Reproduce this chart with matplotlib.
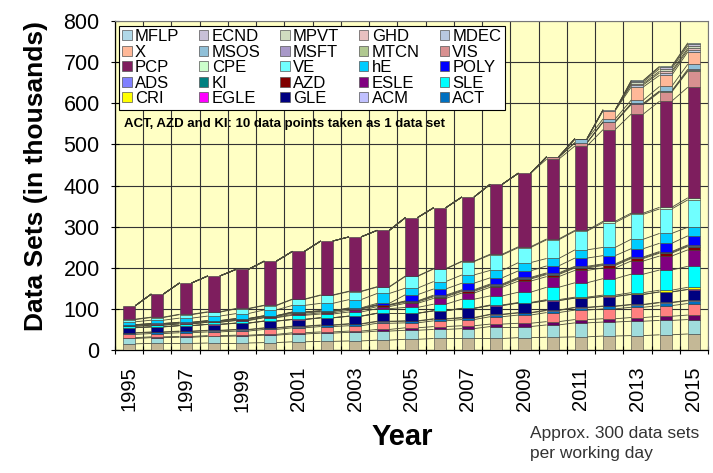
import matplotlib
matplotlib.use("Agg")
import matplotlib.pyplot as plt
import numpy as np
from matplotlib.patches import Rectangle
from matplotlib.collections import LineCollection

plt.rcParams["font.family"] = ["Liberation Sans", "DejaVu Sans"]

years = list(range(1995, 2016))

# data sets per year (thousands), one list per stacked series, bottom of the stack first
base_tan   = [15, 16, 16, 17, 17, 18, 20, 21, 22, 24, 26, 28, 28, 28, 30, 31, 32, 34, 35, 37, 39]
base_aqua  = [13, 14, 15, 16, 17, 18, 19, 20, 21, 22, 22, 22, 24, 29, 27, 30, 34, 34, 35, 35, 35]
base_plum  = [2, 2, 2, 2, 2, 2, 3, 3, 3, 4, 6, 7, 7, 6, 8, 8, 8, 8, 9, 10, 11]
base_rose  = [8, 8, 9, 9, 10, 12, 12, 13, 13, 15, 12, 14, 15, 18, 20, 22, 23, 24, 25, 26, 28]
ACT  = [3, 3, 3, 3, 3, 3, 3, 3, 4, 4, 4, 4, 4, 5, 5, 5, 6, 6, 6, 7, 7]
ACM  = [1, 1, 1, 1, 1, 1, 1, 1, 1, 1, 1, 1, 1, 1, 1, 1, 1, 1, 1, 1, 1]
GLE  = [12, 12, 13, 14, 15, 16, 16, 17, 18, 19, 18, 19, 22, 21, 23, 23, 22, 23, 24, 25, 26]
EGLE = [0.5, 0.5, 0.5, 0.5, 0.5, 0.5, 0.5, 0.5, 0.5, 0.5, 0.5, 0.5, 0.5, 0.5, 0.5, 0.5, 0.5, 0.5, 0.5, 0.5, 0.5]
CRI  = [0, 0, 0, 0, 0, 0, 0, 0, 0, 0, 0, 0, 0, 1, 1, 2, 2, 3, 4, 4, 5]
SLE  = [3, 4, 4, 5, 6, 8, 10, 9, 10, 11, 14, 16, 22, 22, 25, 30, 35, 40, 45, 49, 51]
ESLE = [0, 0, 0, 0, 1, 1, 2, 3, 4, 5, 10, 14, 15, 21, 27, 26, 30, 26, 32, 34, 40]
AZD  = [2, 2, 2, 2, 2, 2, 3, 3, 3, 3, 3, 4, 4, 4, 5, 5, 6, 6, 6, 7, 8]
KI   = [1, 1, 1, 1, 1, 1, 2, 1, 1, 1, 2, 2, 2, 2, 2, 2, 2, 2, 2, 2, 2]
ADS  = [1, 1, 1, 1, 1, 1, 1, 1, 1, 1, 1, 2, 2, 2, 2, 2, 2, 2, 2, 2, 2]
POLY = [0, 0, 0, 0, 0, 0, 0, 0, 1, 3, 15, 15, 16, 15, 16, 17, 20, 20, 20, 20, 22]
hE   = [7, 8, 10, 11, 12, 14, 16, 18, 20, 24, 16, 18, 20, 18, 20, 18, 20, 20, 23, 24, 21]
VE   = [5.5, 6.5, 8.5, 9.5, 11.5, 10.5, 14.5, 19.5, 19.5, 15.5, 28.5, 30.5, 32.5, 37.5, 36.5,
        45.5, 45.5, 60.5, 60.5, 59.5, 66.5]
CPE  = [1, 1, 1, 1, 1, 1, 1, 1, 1, 1, 1, 1, 1, 2, 2, 2, 2, 3, 3, 4, 5]
PCP  = [32.5, 56, 76, 87, 95, 107, 116, 131, 132, 137, 142, 148, 156, 170, 179, 194, 205, 223,
        241, 258, 269]
VIS  = [0, 0, 0, 0, 0, 0, 0, 0, 0, 0, 0, 0, 0, 0, 0, 5, 8, 18, 23, 22, 39]
MTCN = [0, 0, 0, 0, 0, 0, 0, 0, 0, 0, 0, 0, 0, 0, 0, 0, 0, 1, 2, 2, 2]
MSFT = [0, 0, 0, 0, 0, 0, 0, 0, 0, 0, 0, 0, 0, 0, 0, 0, 0, 0, 1, 1, 3]
MSOS = [0, 0, 0, 0, 0, 0, 0, 0, 0, 0, 0, 0, 0, 0, 0, 1, 8, 7, 8, 11, 12]
X    = [0, 0, 0, 0, 0, 0, 0, 0, 0, 0, 0, 0, 0, 0, 0, 0, 1, 20, 32, 27, 30]
MDEC = [0, 0, 0, 0, 0, 0, 0, 0, 0, 0, 0, 0, 0, 0, 0, 0, 1, 2, 5, 6, 5]
GHD  = [0, 0, 0, 0, 0, 0, 0, 0, 0, 0, 0, 0, 0, 0, 0, 0, 0, 0, 3, 4, 4]
MPVT = [0, 0, 0, 0, 0, 0, 0, 0, 0, 0, 0, 0, 0, 0, 0, 0, 0, 0, 4, 6, 6]
ECND = [0, 0, 0, 0, 0, 0, 0, 0, 0, 0, 0, 0, 0, 0, 0, 0, 0, 0, 3, 4, 4]
MFLP = [0, 0, 0, 0, 0, 0, 0, 0, 0, 0, 0, 0, 0, 0, 0, 0, 0, 0, 1, 2, 3]

stack_names = ["base_tan", "base_aqua", "base_plum", "base_rose", "ACT", "ACM", "GLE", "EGLE",
               "CRI", "SLE", "ESLE", "AZD", "KI", "ADS", "POLY", "hE", "VE", "CPE", "PCP", "VIS",
               "MTCN", "MSFT", "MSOS", "X", "MDEC", "GHD", "MPVT", "ECND", "MFLP"]
stack_values = [base_tan, base_aqua, base_plum, base_rose, ACT, ACM, GLE, EGLE, CRI, SLE, ESLE,
                AZD, KI, ADS, POLY, hE, VE, CPE, PCP, VIS, MTCN, MSFT, MSOS, X, MDEC, GHD, MPVT,
                ECND, MFLP]

# legend as shown (row by row); the four base series have no entry in the original
legend_names = ["MFLP", "ECND", "MPVT", "GHD", "MDEC",
                "X", "MSOS", "MSFT", "MTCN", "VIS",
                "PCP", "CPE", "VE", "hE", "POLY",
                "ADS", "KI", "AZD", "ESLE", "SLE",
                "CRI", "EGLE", "GLE", "ACM", "ACT"]

colors = {
    "base_tan": "#C4B896", "base_aqua": "#A0DCDC", "base_plum": "#660066", "base_rose": "#FF8080",
    "ACT": "#0070C0", "ACM": "#C0C0FF", "GLE": "#000080", "EGLE": "#FF00FF", "CRI": "#FFFF00",
    "SLE": "#00FFFF", "ESLE": "#800080", "AZD": "#800000", "KI": "#008080", "ADS": "#8080FF",
    "POLY": "#0000FF", "hE": "#00CCFF", "VE": "#70FFFF", "CPE": "#CCFFCC", "PCP": "#7E1E5E",
    "VIS": "#D89090", "MTCN": "#B0C890", "MSFT": "#A898C8", "MSOS": "#90C0D8", "X": "#FFB898",
    "MDEC": "#B8C8E0", "GHD": "#E8C0C0", "MPVT": "#D0DCC0", "ECND": "#C8C0D8", "MFLP": "#B0D8E8",
}

W, H = 713, 473
fig = plt.figure(figsize=(W / 100, H / 100), dpi=100)
ax = fig.add_axes([115 / W, 1 - 350 / H, (708 - 115) / W, (350 - 21) / H])
ax.set_facecolor("#FFFFC4")

x = np.arange(len(years))
bw = 0.43
bottom = np.zeros(len(years))
tops = []
for name, vals in zip(stack_names, stack_values):
    vals = np.asarray(vals, dtype=float)
    ax.bar(x, vals, bw, bottom=bottom, color=colors[name], edgecolor="#3a3a3a",
           linewidth=np.where(vals > 0, 0.4, 0.0), zorder=3)
    bottom = bottom + vals
    tops.append(bottom.copy())

# Excel style series lines between neighbouring columns
segs = []
for t in tops:
    for i in range(len(x) - 1):
        segs.append([(x[i] + bw / 2, t[i]), (x[i + 1] - bw / 2, t[i + 1])])
ax.add_collection(LineCollection(segs, colors="#4a4a3a", linewidths=0.6, zorder=2))

ax.set_xlim(-0.5, len(years) - 0.5)
ax.set_ylim(0, 800)
ax.set_yticks(range(0, 801, 100))
ax.set_xticks(x[::2])
ax.set_xticklabels([str(y) for y in years[::2]], rotation=90, fontsize=14.5)
ax.set_xticks(np.arange(-0.5, len(years), 1), minor=True)
ax.tick_params(axis="x", which="major", length=0, pad=12)
ax.tick_params(axis="x", which="minor", length=6, direction="inout", width=0.8)
ax.tick_params(axis="y", which="major", length=6, direction="inout", width=0.8,
               labelsize=15.5, pad=8)
ax.set_axisbelow(True)
ax.xaxis.grid(True, which="minor", color="#333333", linewidth=0.8)
ax.yaxis.grid(True, which="major", color="#333333", linewidth=0.8)
for side in ["top", "right"]:
    ax.spines[side].set_color("#777777")
for side in ["left", "bottom"]:
    ax.spines[side].set_color("black")
    ax.spines[side].set_linewidth(0.9)

handles = [Rectangle((0, 0), 1, 1, facecolor=colors[n], edgecolor="#555555", linewidth=0.5)
           for n in legend_names]
order = [r * 5 + c for c in range(5) for r in range(5)]
leg = ax.legend([handles[i] for i in order], [legend_names[i] for i in order], ncols=5,
                loc="upper left", bbox_to_anchor=(119 / W, 1 - 26 / H),
                bbox_transform=fig.transFigure, fontsize=12, frameon=True, fancybox=False,
                edgecolor="black", framealpha=1, borderpad=0.2, labelspacing=0.03,
                handlelength=0.55, handleheight=0.55, handletextpad=0.2, columnspacing=1.2,
                borderaxespad=0)
leg.get_frame().set_linewidth(0.8)
leg.set_zorder(5)

fig.text(124 / W, 1 - 124 / H, "ACT, AZD and KI: 10 data points taken as 1 data set",
         fontsize=9.5, fontweight="bold", va="center", ha="left")

fig.text(36 / W, 1 - 176 / H, "Data Sets (in thousands)", rotation=90, fontsize=19,
         fontweight="bold", ha="center", va="center")
fig.text(402 / W, 1 - 437 / H, "Year", fontsize=21, fontweight="bold", ha="center", va="center")
fig.text(530 / W, 1 - 426 / H, "Approx. 300 data sets\nper working day", fontsize=12.5,
         color="#333333", ha="left", va="top", linespacing=1.45)

fig.savefig("out.png", dpi=100)
